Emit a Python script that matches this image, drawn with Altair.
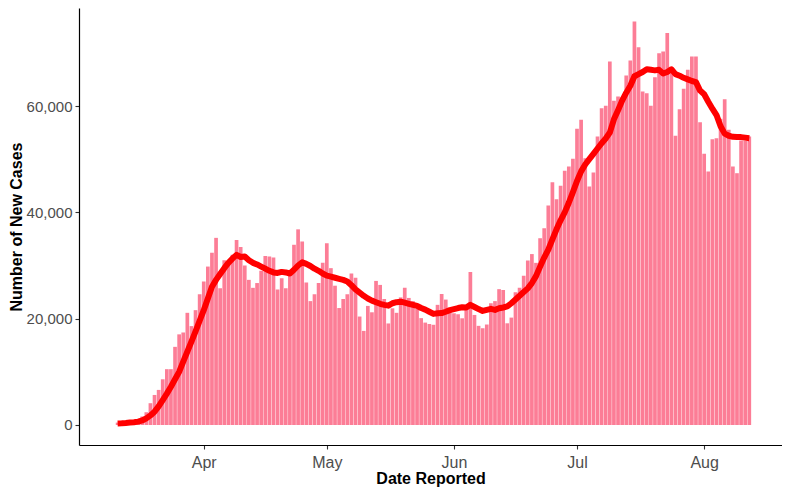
import altair as alt
import pandas as pd

# Daily dates, 2020-03-11 .. 2020-08-12
dates = pd.date_range("2020-03-11", periods=155, freq="D").strftime("%Y-%m-%dT00:00:00").tolist()

new_cases = [
    450, 500, 550, 650, 750, 1000, 1600,                      # Mar 11-17
    2400, 4100, 5650, 6600, 8600, 10500, 10500,               # Mar 18-24
    14700, 17050, 17400, 21100, 18600, 21600, 24600,          # Mar 25-31
    27000, 29800, 32400, 35200, 25700, 31000, 30500,          # Apr 1-7
    32000, 34800, 33500, 30000, 27300, 25800, 26700,          # Apr 8-14
    29000, 31800, 31700, 31500, 25500, 27600, 25700,          # Apr 15-21
    29000, 33900, 36800, 34500, 26800, 23300, 24600,          # Apr 22-28
    26700, 30500, 34200, 29500, 26200, 22000, 23700,          # Apr 29 - May 5
    24600, 28500, 27700, 20400, 17700, 22400, 21200,          # May 6-12
    27100, 26350, 23700, 19100, 21950, 21100, 24000,          # May 13-19
    25800, 23900, 23300, 21900, 20100, 19260, 19000,          # May 20-26
    18850, 22600, 24650, 23590, 21300, 21010, 20830,          # May 27 - Jun 2
    20070, 22000, 28800, 20700, 18650, 18200, 18900,          # Jun 3-9
    22900, 23300, 25550, 25400, 19130, 20200, 24950,          # Jun 10-16
    25800, 28070, 30930, 32150, 30500, 35130, 37010,          # Jun 17-23
    41280, 45670, 42470, 45000, 47800, 48620, 50060,          # Jun 24-30
    55700, 57400, 50180, 44850, 47490, 54260, 59590,          # Jul 1-7
    60030, 68380, 60970, 61790, 61660, 65740, 68560,          # Jul 8-14
    75900, 71070, 62730, 62420, 60030, 65430, 69940,          # Jul 15-21
    70260, 73710, 66180, 54390, 59400, 63230, 66810,          # Jul 22-28
    69320, 69320, 56960, 51000, 47670, 53760, 53950,          # Jul 29 - Aug 4
    57590, 61290, 55520, 48620, 47360, 53510, 53510,          # Aug 5-11
    54260,                                                    # Aug 12
]

rolling_avg = [
    300, 330, 380, 450, 520, 630, 850,
    1250, 1800, 2500, 3500, 4700, 5900, 7200,
    8600, 10000, 11900, 13800, 15700, 17600, 19600,
    21600, 23800, 26000, 27300, 28400, 29500, 30500,
    31300, 32000, 31600, 31700, 31000, 30500, 30200,
    29800, 29400, 29000, 28700, 28600, 28800, 28700,
    28500, 29200, 30000, 30600, 30300, 29900, 29400,
    29000, 28500, 28100, 27900, 27700, 27500, 27300,
    27000, 26300, 25500, 24900, 24300, 23800, 23400,
    23100, 22800, 22600, 22450, 22900, 23100, 23200,
    23000, 22800, 22600, 22400, 22000, 21700, 21300,
    20900, 21000, 21050, 21300, 21600, 21800, 22000,
    22150, 22100, 22600, 22200, 21800, 21450, 21650,
    21850, 21650, 21950, 22100, 22300, 22900, 23600,
    24300, 25000, 25700, 26700, 28000, 29800, 31500,
    33000, 34900, 36800, 38500, 40000, 41800, 43800,
    45900, 47700, 49000, 50000, 51000, 52000, 53000,
    53900, 55000, 57500, 59200, 61000, 62500, 63800,
    65600, 66000, 66400, 66900, 66800, 66700, 66800,
    66100, 66400, 66900, 66000, 65700, 65300, 65000,
    64700, 64500, 62900, 62200, 60800, 59500, 58300,
    56200, 54800, 54400, 54200, 54150, 54150, 54050,
    53950,
]

assert len(new_cases) == len(dates) == len(rolling_avg)

df = pd.DataFrame({"date": dates, "cases": new_cases, "avg": rolling_avg})

month_ticks = [alt.DateTime(year=2020, month=m, date=1) for m in [4, 5, 6, 7, 8]]

x_scale = alt.Scale(
    domain=[
        alt.DateTime(year=2020, month=3, date=2, hours=19, minutes=19),
        alt.DateTime(year=2020, month=8, date=18, hours=18, minutes=7),
    ],
    nice=False,
)
y_scale = alt.Scale(domain=[-3762, 78433], nice=False, zero=False)

x_axis = alt.Axis(
    title="Date Reported", values=month_ticks, format="%b",
    labelPadding=5, titlePadding=0, labelFlush=False, labelFontSize=16,
)
y_axis = alt.Axis(
    title="Number of New Cases", values=[0, 20000, 40000, 60000], format=",d",
    labelPadding=3, titlePadding=2, labelFontSize=15,
)

bars = alt.Chart(df).mark_bar(width=3.7, color="#FC7D96").encode(
    x=alt.X("date:T", scale=x_scale, axis=x_axis),
    y=alt.Y("cases:Q", scale=y_scale, axis=y_axis),
)

line = alt.Chart(df).mark_line(
    color="#FF0000", strokeWidth=6, strokeCap="butt", strokeJoin="round"
).encode(
    x=alt.X("date:T", scale=x_scale),
    y=alt.Y("avg:Q", scale=y_scale),
)

chart = (
    alt.layer(bars, line)
    .properties(
        width=703,
        height=437,
        autosize=alt.AutoSizeParams(type="none"),
        padding={"left": 71, "top": 0, "right": 0, "bottom": 42},
    )
    .configure_view(stroke=None)
    .configure_axis(
        grid=False,
        domainColor="black",
        domainWidth=1.2,
        tickColor="#333333",
        tickSize=4,
        tickWidth=1.1,
        labelColor="#4D4D4D",
        labelFont="Liberation Sans",
        titleFont="Liberation Sans",
        titleFontSize=16,
        titleFontWeight="bold",
        titleColor="black",
    )
)

chart.save("out.html", embed_options={"renderer": "svg", "actions": False})
